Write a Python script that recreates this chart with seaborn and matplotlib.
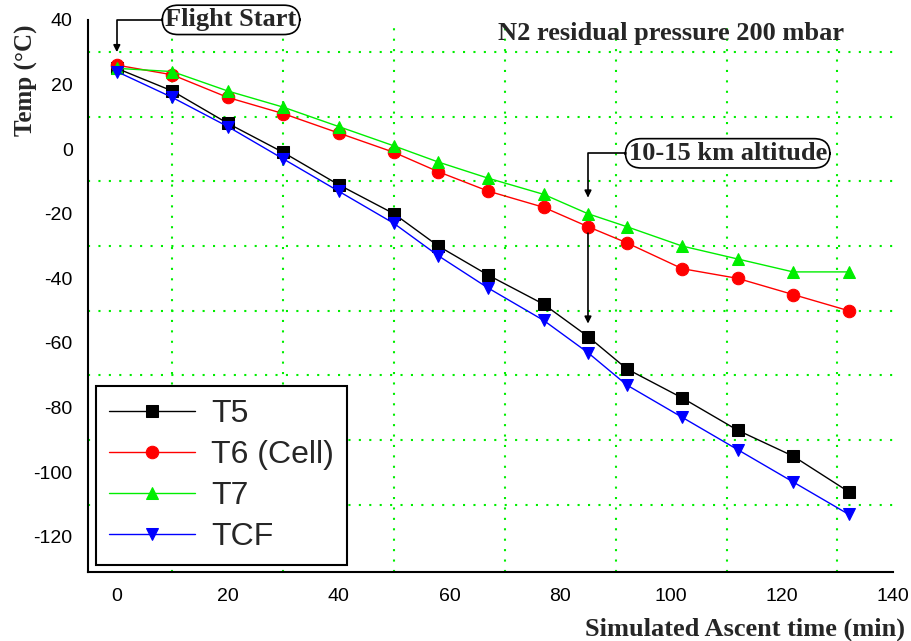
import numpy as np
import pandas as pd
import matplotlib
matplotlib.use('Agg')
import matplotlib.pyplot as plt
import seaborn as sns
from matplotlib.ticker import FixedLocator

# data
time_min = [0, 10, 20, 30, 40, 50, 58, 67, 77, 85, 92, 102, 112, 122, 132]
t5 = [25, 18, 8, -1, -11, -20, -30, -39, -48, -58, -68, -77, -87, -95, -106]
t6 = [26, 23, 16, 11, 5, -1, -7, -13, -18, -24, -29, -37, -40, -45, -50]
t7 = [25, 24, 18, 13, 7, 1, -4, -9, -14, -20, -24, -30, -34, -38, -38]
tcf = [24, 16, 7, -3, -13, -23, -33, -43, -53, -63, -73, -83, -93, -103, -113]

x_major = [0, 20, 40, 60, 80, 100, 120, 140]
x_minor = [10, 30, 50, 70, 90, 110, 130]
y_major = [-120, -100, -80, -60, -40, -20, 0, 20, 40]
y_minor = [-110, -90, -70, -50, -30, -10, 10, 30]

series = [('T5', t5, 'black', 's'),
          ('T6 (Cell)', t6, '#ff0000', 'o'),
          ('T7', t7, '#00ee00', '^'),
          ('TCF', tcf, '#0000ff', 'v')]

sns.set_style('white')
plt.rcParams['font.family'] = ['Liberation Sans', 'DejaVu Sans']
plt.rcParams['axes.unicode_minus'] = False

fig = plt.figure(figsize=(9.12, 6.41), dpi=100)
ax = fig.add_axes([0.0965, 0.107, 0.8825, 0.862])

for name, vals, col, mk in series:
    sns.lineplot(x=time_min, y=vals, ax=ax, color=col, marker=mk, markersize=9,
                 markeredgecolor=col, linewidth=1.0, label=name)

ax.set_xlim(-5.2, 140)
ax.set_ylim(-131, 40)

ax.xaxis.set_major_locator(FixedLocator(x_major))
ax.xaxis.set_minor_locator(FixedLocator(x_minor))
ax.yaxis.set_major_locator(FixedLocator(y_major))
ax.yaxis.set_minor_locator(FixedLocator(y_minor))
ax.tick_params(which='major', direction='inout', length=10, width=1.3, labelsize=14,
               colors='black', pad=6)
ax.tick_params(which='minor', direction='inout', length=6, width=1.0)
ax.grid(which='minor', color='#00ee00', linestyle=(0, (1, 4)), linewidth=1.5)
ax.grid(which='major', visible=False)

for s in ['top', 'right']:
    ax.spines[s].set_visible(False)
for s in ['left', 'bottom']:
    ax.spines[s].set_color('black')
    ax.spines[s].set_linewidth(1.5)

serif = dict(family='Liberation Serif', fontweight='bold')
ax.set_ylabel('Temp (°C)', fontsize=18, **serif)
ax.yaxis.set_label_coords(-0.062, 0.89)
ax.set_xlabel('Simulated Ascent time (min)', fontsize=19, ha='right', va='center', **serif)
ax.xaxis.set_label_coords(1.015, -0.103)

ax.text(0.725, 0.975, 'N2 residual pressure 200 mbar', transform=ax.transAxes,
        fontsize=19, ha='center', va='center', **serif)

arrow = dict(arrowstyle='-|>', color='black', lw=1.2, mutation_scale=10,
             connectionstyle='angle,angleA=0,angleB=90,rad=0', shrinkA=0, shrinkB=0)
box = dict(boxstyle='round,pad=0.12,rounding_size=0.6', fc='white', ec='black', lw=1.2)
ax.annotate('Flight Start', xy=(0, 30), xytext=(20.6, 40), fontsize=19,
            ha='center', va='center', bbox=box, arrowprops=arrow,
            annotation_clip=False, **serif)
ax.annotate('10-15 km altitude', xy=(85, -15), xytext=(110.2, -1.3), fontsize=19,
            ha='center', va='center', bbox=box, arrowprops=arrow, **serif)
ax.annotate('', xy=(85, -54), xytext=(85, -26),
            arrowprops=dict(arrowstyle='-|>', color='black', lw=1.2, mutation_scale=10,
                            shrinkA=0, shrinkB=0))

leg = ax.legend(loc='lower left', bbox_to_anchor=(0.01, 0.013), borderaxespad=0, fontsize=23,
                frameon=True, fancybox=False, edgecolor='black', framealpha=1,
                handlelength=2.7, labelspacing=0.35, borderpad=0.4, handletextpad=0.5)
leg.get_frame().set_linewidth(1.5)

fig.savefig('out.png', dpi=100)
